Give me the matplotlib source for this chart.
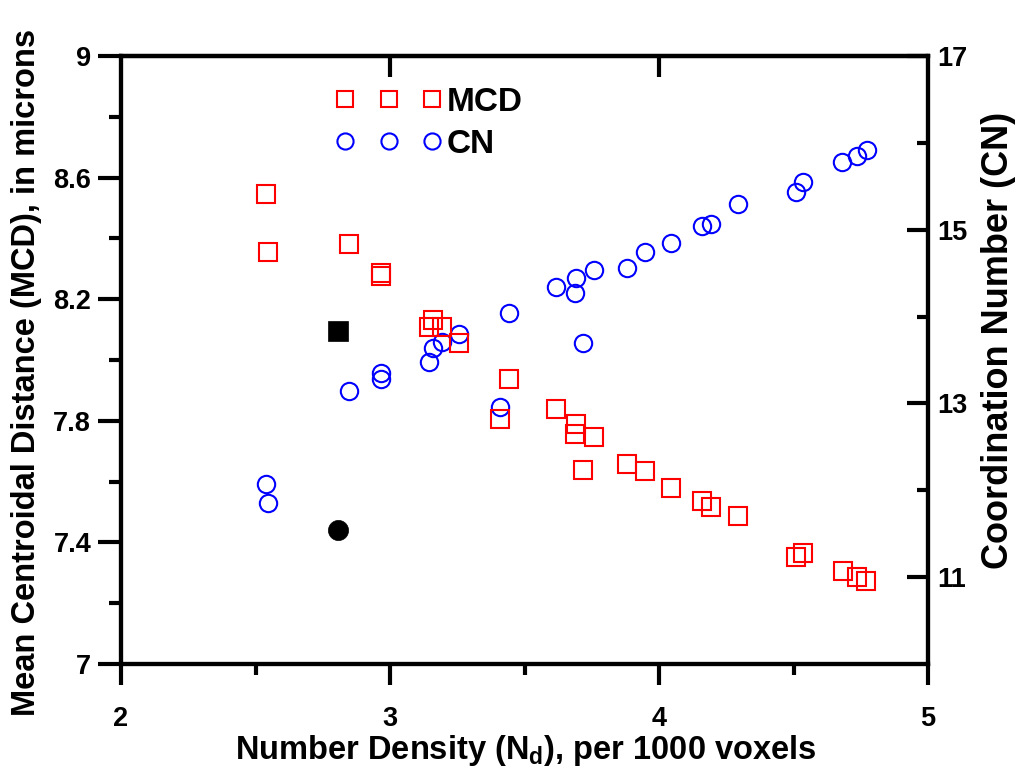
import matplotlib
matplotlib.use("Agg")
import matplotlib.pyplot as plt
from matplotlib.lines import Line2D
from matplotlib.ticker import FixedLocator, FuncFormatter

# ---------------- data ----------------
nd = [2.540, 2.548, 2.846, 2.965, 2.965, 3.145, 3.161, 3.192, 3.257, 3.408,
      3.444, 3.617, 3.690, 3.687, 3.760, 3.719, 3.880, 3.949, 4.043, 4.160,
      4.194, 4.294, 4.509, 4.534, 4.683, 4.737, 4.771]
mcd = [8.545, 8.354, 8.381, 8.287, 8.276, 8.110, 8.132, 8.108, 8.057, 7.805,
       7.937, 7.838, 7.789, 7.757, 7.746, 7.638, 7.657, 7.636, 7.578, 7.537,
       7.515, 7.486, 7.351, 7.364, 7.307, 7.285, 7.273]
cn_nd = [2.540, 2.548, 2.846, 2.965, 2.965, 3.145, 3.161, 3.192, 3.257, 3.408,
         3.444, 3.617, 3.690, 3.687, 3.760, 3.719, 3.880, 3.949, 4.043, 4.160,
         4.194, 4.294, 4.509, 4.534, 4.681, 4.737, 4.772]
cn = [12.072, 11.850, 13.140, 13.347, 13.278, 13.473, 13.634, 13.711, 13.796, 12.963,
      14.045, 14.337, 14.440, 14.275, 14.532, 13.700, 14.563, 14.747, 14.843, 15.043,
      15.069, 15.296, 15.434, 15.553, 15.779, 15.848, 15.918]
ref_nd = [2.808]
ref_mcd = [8.095]
ref_cn = [11.543]

x_ticks = [2, 3, 4, 5]
x_minor = [2.5, 3.5, 4.5]
mcd_ticks = [7.0, 7.4, 7.8, 8.2, 8.6, 9.0]
mcd_minor = [7.2, 7.6, 8.0, 8.4, 8.8]
cn_ticks = [11, 13, 15, 17]
cn_minor = [12, 14, 16]
labels = ["MCD", "CN"]

# ---------------- style ----------------
plt.rcParams["font.family"] = ["Liberation Sans", "DejaVu Sans"]
plt.rcParams["font.weight"] = "bold"
plt.rcParams["mathtext.fontset"] = "custom"
plt.rcParams["mathtext.rm"] = "Liberation Sans:bold"
plt.rcParams["mathtext.it"] = "Liberation Sans:bold"
plt.rcParams["mathtext.bf"] = "Liberation Sans:bold"

W, H = 1015, 770
fig = plt.figure(figsize=(W / 100, H / 100), dpi=100)
L, R, T, B = 121, 928, 56, 664
ax = fig.add_axes([L / W, 1 - B / H, (R - L) / W, (B - T) / H])
ax2 = ax.twinx()
ax.set_zorder(ax2.get_zorder() + 1)
ax.patch.set_visible(False)

ms, mew = 12.5, 1.5
ax.plot(nd, mcd, ls="none", marker="s", ms=ms, mfc="none", mec="#ff0000", mew=mew)
ax2.plot(cn_nd, cn, ls="none", marker="o", ms=ms, mfc="none", mec="#0000ff", mew=mew)
ax.plot(ref_nd, ref_mcd, ls="none", marker="s", ms=14.5, mfc="black", mec="black", mew=0.5)
ax2.plot(ref_nd, ref_cn, ls="none", marker="o", ms=14.5, mfc="black", mec="black", mew=0.5)

ax.set_xlim(2, 5)
ax.set_ylim(7, 9)
ax2.set_ylim(10, 17)

lw = 3
for a in (ax, ax2):
    for s in a.spines.values():
        s.set_linewidth(lw)

ax.xaxis.set_major_locator(FixedLocator(x_ticks))
ax.xaxis.set_minor_locator(FixedLocator(x_minor))
ax.yaxis.set_major_locator(FixedLocator(mcd_ticks))
ax.yaxis.set_minor_locator(FixedLocator(mcd_minor))
ax2.yaxis.set_major_locator(FixedLocator(cn_ticks))
ax2.yaxis.set_minor_locator(FixedLocator(cn_minor))
fmt = FuncFormatter(lambda v, p: "%g" % v)
ax.xaxis.set_major_formatter(fmt)
ax.yaxis.set_major_formatter(fmt)
ax2.yaxis.set_major_formatter(fmt)

tls = 19.5
ax.tick_params(axis="x", which="major", direction="out", length=15, width=lw, pad=15,
               labelsize=tls, top=False)
ax.tick_params(axis="x", which="minor", direction="out", length=8, width=lw, top=False)
ax.tick_params(axis="y", which="major", direction="out", length=16.5, width=lw, pad=5,
               labelsize=tls, right=False)
ax.tick_params(axis="y", which="minor", direction="out", length=8.5, width=lw, right=False)
ax2.tick_params(axis="y", which="major", direction="in", length=15, width=lw, pad=7,
                labelsize=tls, left=False)
ax2.tick_params(axis="y", which="minor", direction="in", length=8, width=lw, left=False)
for t in ax.get_xticklabels() + ax.get_yticklabels() + ax2.get_yticklabels():
    t.set_fontweight("bold")

top = ax.secondary_xaxis("top")
top.xaxis.set_major_locator(FixedLocator([3, 4]))
top.tick_params(axis="x", which="major", direction="in", length=15, width=lw, labeltop=False)
top.spines["top"].set_linewidth(lw)

fig.text(27 / W, 1 - 372 / H, "Mean Centroidal Distance (MCD), in microns",
         rotation=90, ha="center", va="center", fontsize=23.5, fontweight="bold")
fig.text(999 / W, 1 - 340 / H, "Coordination Number (CN)",
         rotation=90, ha="center", va="center", fontsize=26, fontweight="bold")
fig.text(526 / W, 1 - 759 / H, r"Number Density ($\mathrm{N_d}$), per 1000 voxels",
         ha="center", va="baseline", fontsize=23.5, fontweight="bold")

h1 = Line2D([], [], ls="none", marker="s", ms=ms, mfc="none", mec="#ff0000", mew=mew)
h2 = Line2D([], [], ls="none", marker="o", ms=ms, mfc="none", mec="#0000ff", mew=mew)
leg = ax.legend([h1, h2], labels, loc="upper left", bbox_to_anchor=(335 / W, 1 - 87 / H),
                bbox_transform=fig.transFigure, frameon=False, numpoints=3,
                handlelength=3.21, handletextpad=0.15, labelspacing=0.33,
                borderpad=0, borderaxespad=0, markerscale=0.93,
                prop={"size": 24, "weight": "bold"})

fig.savefig("out.png", dpi=100)
